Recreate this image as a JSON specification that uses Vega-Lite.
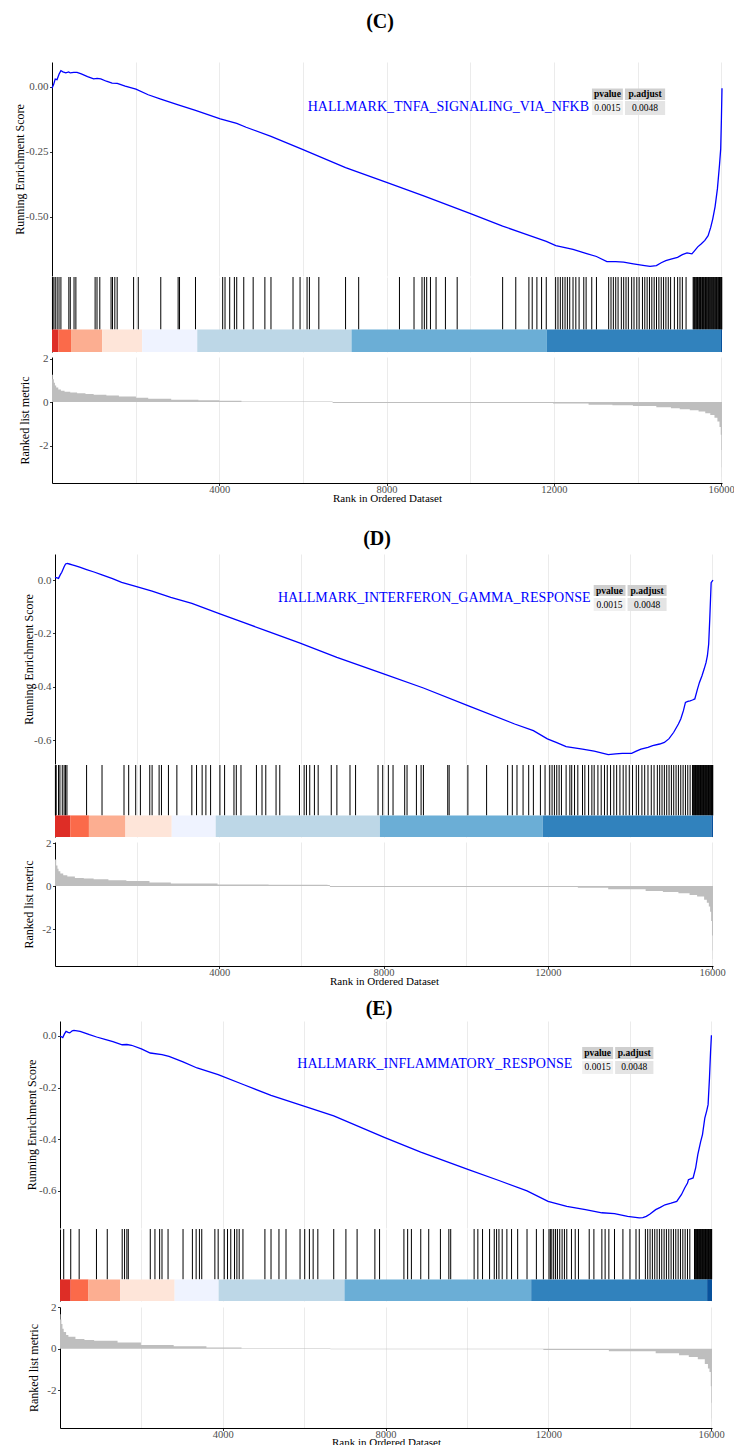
{
  "$schema": "https://vega.github.io/schema/vega-lite/v6.json",
  "padding": {"left": 0, "top": 12, "right": 0, "bottom": 0},
  "background": "white",
  "spacing": 0,
  "config": {
    "view": {"stroke": null},
    "font": "Liberation Serif",
    "axis": {"gridColor": "#EBEBEB", "gridWidth": 1, "domainColor": "#000000", "domainWidth": 1, "tickColor": "#333333", "labelColor": "#4D4D4D", "labelFont": "Liberation Serif", "titleFont": "Liberation Serif", "titleFontWeight": "normal", "titleColor": "#000000", "labelFontSize": 11, "titleFontSize": 12, "tickSize": 2.5, "labelPadding": 1.5},
    "title": {"font": "Liberation Serif", "fontSize": 20, "fontWeight": "bold", "color": "#000000", "anchor": "middle", "dx": -7}
  },
  "datasets": {
    "esC": [{"rank":0,"es":-0.005},{"rank":40,"es":0.01},{"rank":77,"es":0.03},{"rank":120,"es":0.028},{"rank":170,"es":0.05},{"rank":213,"es":0.063},{"rank":260,"es":0.058},{"rank":330,"es":0.054},{"rank":400,"es":0.058},{"rank":436,"es":0.054},{"rank":520,"es":0.056},{"rank":599,"es":0.056},{"rank":700,"es":0.05},{"rank":850,"es":0.04},{"rank":996,"es":0.031},{"rank":1080,"es":0.033},{"rank":1166,"es":0.031},{"rank":1300,"es":0.022},{"rank":1437,"es":0.015},{"rank":1560,"es":0.014},{"rank":1750,"es":0.003},{"rank":2007,"es":-0.008},{"rank":2300,"es":-0.03},{"rank":2601,"es":-0.047},{"rank":3018,"es":-0.069},{"rank":3431,"es":-0.09},{"rank":4024,"es":-0.123},{"rank":4417,"es":-0.14},{"rank":4641,"es":-0.155},{"rank":5236,"es":-0.19},{"rank":5988,"es":-0.24},{"rank":7019,"es":-0.31},{"rank":8000,"es":-0.367},{"rank":8903,"es":-0.42},{"rank":10023,"es":-0.488},{"rank":10775,"es":-0.535},{"rank":11304,"es":-0.565},{"rank":11818,"es":-0.594},{"rank":12047,"es":-0.61},{"rank":12458,"es":-0.625},{"rank":12765,"es":-0.64},{"rank":13018,"es":-0.652},{"rank":13268,"es":-0.672},{"rank":13479,"es":-0.672},{"rank":13668,"es":-0.674},{"rank":13900,"es":-0.68},{"rank":14171,"es":-0.687},{"rank":14300,"es":-0.69},{"rank":14451,"es":-0.687},{"rank":14567,"es":-0.676},{"rank":14676,"es":-0.668},{"rank":14800,"es":-0.662},{"rank":14957,"es":-0.655},{"rank":15072,"es":-0.645},{"rank":15184,"es":-0.638},{"rank":15300,"es":-0.642},{"rank":15352,"es":-0.632},{"rank":15440,"es":-0.615},{"rank":15520,"es":-0.604},{"rank":15610,"es":-0.59},{"rank":15688,"es":-0.572},{"rank":15750,"es":-0.54},{"rank":15798,"es":-0.508},{"rank":15855,"es":-0.46},{"rank":15910,"es":-0.392},{"rank":15960,"es":-0.3},{"rank":15989,"es":-0.238},{"rank":16005,"es":-0.13},{"rank":16020,"es":-0.005}],
    "esD": [{"rank":0,"es":0.01},{"rank":50,"es":0.008},{"rank":86,"es":0.006},{"rank":130,"es":0.02},{"rank":165,"es":0.029},{"rank":222,"es":0.05},{"rank":257,"es":0.06},{"rank":300,"es":0.062},{"rank":348,"es":0.06},{"rank":420,"es":0.057},{"rank":484,"es":0.054},{"rank":600,"es":0.048},{"rank":769,"es":0.039},{"rank":950,"es":0.03},{"rank":1145,"es":0.019},{"rank":1400,"es":0.005},{"rank":1623,"es":-0.009},{"rank":1965,"es":-0.024},{"rank":2364,"es":-0.042},{"rank":2819,"es":-0.065},{"rank":3332,"es":-0.088},{"rank":4015,"es":-0.127},{"rank":4585,"es":-0.159},{"rank":5132,"es":-0.19},{"rank":5952,"es":-0.236},{"rank":6863,"es":-0.29},{"rank":8002,"es":-0.352},{"rank":8970,"es":-0.405},{"rank":10052,"es":-0.471},{"rank":11191,"es":-0.54},{"rank":11647,"es":-0.565},{"rank":11988,"es":-0.596},{"rank":12216,"es":-0.61},{"rank":12444,"es":-0.625},{"rank":12843,"es":-0.634},{"rank":13127,"es":-0.642},{"rank":13298,"es":-0.648},{"rank":13469,"es":-0.655},{"rank":13650,"es":-0.652},{"rank":13811,"es":-0.65},{"rank":14039,"es":-0.65},{"rank":14152,"es":-0.642},{"rank":14266,"es":-0.634},{"rank":14437,"es":-0.628},{"rank":14551,"es":-0.621},{"rank":14722,"es":-0.615},{"rank":14836,"es":-0.609},{"rank":14950,"es":-0.595},{"rank":15064,"es":-0.571},{"rank":15178,"es":-0.54},{"rank":15235,"es":-0.521},{"rank":15300,"es":-0.49},{"rank":15349,"es":-0.459},{"rank":15406,"es":-0.455},{"rank":15463,"es":-0.453},{"rank":15520,"es":-0.45},{"rank":15577,"es":-0.446},{"rank":15640,"es":-0.41},{"rank":15690,"es":-0.384},{"rank":15750,"es":-0.36},{"rank":15804,"es":-0.334},{"rank":15850,"es":-0.31},{"rank":15884,"es":-0.284},{"rank":15915,"es":-0.24},{"rank":15941,"es":-0.146},{"rank":15960,"es":-0.07},{"rank":15975,"es":-0.01},{"rank":16020,"es":0.0}],
    "esE": [{"rank":0,"es":0.0},{"rank":68,"es":-0.006},{"rank":110,"es":0.008},{"rank":149,"es":0.018},{"rank":200,"es":0.014},{"rank":241,"es":0.012},{"rank":300,"es":0.02},{"rank":344,"es":0.022},{"rank":420,"es":0.02},{"rank":494,"es":0.018},{"rank":600,"es":0.012},{"rank":724,"es":0.005},{"rank":900,"es":-0.004},{"rank":1126,"es":-0.014},{"rank":1300,"es":-0.022},{"rank":1528,"es":-0.034},{"rank":1643,"es":-0.033},{"rank":1758,"es":-0.036},{"rank":2000,"es":-0.05},{"rank":2218,"es":-0.066},{"rank":2506,"es":-0.072},{"rank":2678,"es":-0.079},{"rank":3023,"es":-0.1},{"rank":3368,"es":-0.124},{"rank":3886,"es":-0.15},{"rank":4518,"es":-0.189},{"rank":5185,"es":-0.23},{"rank":6013,"es":-0.273},{"rank":6726,"es":-0.31},{"rank":7967,"es":-0.393},{"rank":8864,"es":-0.45},{"rank":10037,"es":-0.518},{"rank":10785,"es":-0.56},{"rank":11475,"es":-0.6},{"rank":11992,"es":-0.641},{"rank":12452,"es":-0.66},{"rank":12912,"es":-0.673},{"rank":13314,"es":-0.685},{"rank":13624,"es":-0.688},{"rank":13946,"es":-0.699},{"rank":14233,"es":-0.705},{"rank":14320,"es":-0.704},{"rank":14406,"es":-0.699},{"rank":14498,"es":-0.69},{"rank":14636,"es":-0.673},{"rank":14750,"es":-0.664},{"rank":14866,"es":-0.654},{"rank":15015,"es":-0.648},{"rank":15154,"es":-0.641},{"rank":15268,"es":-0.615},{"rank":15349,"es":-0.589},{"rank":15418,"es":-0.57},{"rank":15441,"es":-0.557},{"rank":15556,"es":-0.55},{"rank":15620,"es":-0.51},{"rank":15671,"es":-0.46},{"rank":15740,"es":-0.41},{"rank":15786,"es":-0.382},{"rank":15843,"es":-0.318},{"rank":15890,"es":-0.29},{"rank":15924,"es":-0.266},{"rank":15958,"es":-0.163},{"rank":15985,"es":-0.06},{"rank":16005,"es":0.0},{"rank":16020,"es":0.0}],
    "hitsC": [{"rank":11},{"rank":44},{"rank":78},{"rank":123},{"rank":168},{"rank":213},{"rank":403},{"rank":437},{"rank":527},{"rank":571},{"rank":1031},{"rank":1076},{"rank":1143},{"rank":1412},{"rank":1446},{"rank":1502},{"rank":1558},{"rank":1951},{"rank":2063},{"rank":2601},{"rank":3016},{"rank":3049},{"rank":3431},{"rank":4081},{"rank":4137},{"rank":4249},{"rank":4361},{"rank":4417},{"rank":4585},{"rank":4810},{"rank":5090},{"rank":5236},{"rank":5763},{"rank":5931},{"rank":6099},{"rank":6155},{"rank":6380},{"rank":7019},{"rank":7333},{"rank":8308},{"rank":8656},{"rank":8847},{"rank":8903},{"rank":8959},{"rank":9049},{"rank":9183},{"rank":9407},{"rank":9688},{"rank":10775},{"rank":11089},{"rank":11403},{"rank":11482},{"rank":11594},{"rank":11706},{"rank":11818},{"rank":12042},{"rank":12098},{"rank":12154},{"rank":12211},{"rank":12267},{"rank":12323},{"rank":12379},{"rank":12458},{"rank":12525},{"rank":12603},{"rank":12715},{"rank":12771},{"rank":12906},{"rank":13018},{"rank":13310},{"rank":13366},{"rank":13422},{"rank":13479},{"rank":13535},{"rank":13613},{"rank":13669},{"rank":13725},{"rank":13781},{"rank":13860},{"rank":13916},{"rank":13983},{"rank":14039},{"rank":14118},{"rank":14174},{"rank":14230},{"rank":14286},{"rank":14342},{"rank":14398},{"rank":14454},{"rank":14511},{"rank":14567},{"rank":14623},{"rank":14679},{"rank":14735},{"rank":14791},{"rank":14881},{"rank":14959},{"rank":15015},{"rank":15072},{"rank":15161},{"rank":15330},{"rank":15345},{"rank":15365},{"rank":15380},{"rank":15400},{"rank":15415},{"rank":15435},{"rank":15450},{"rank":15470},{"rank":15485},{"rank":15505},{"rank":15520},{"rank":15540},{"rank":15555},{"rank":15575},{"rank":15590},{"rank":15610},{"rank":15625},{"rank":15645},{"rank":15660},{"rank":15680},{"rank":15695},{"rank":15715},{"rank":15730},{"rank":15750},{"rank":15765},{"rank":15785},{"rank":15800},{"rank":15820},{"rank":15835},{"rank":15855},{"rank":15870},{"rank":15890},{"rank":15905},{"rank":15925},{"rank":15940},{"rank":15960},{"rank":15975},{"rank":15990},{"rank":16005},{"rank":16015}],
    "hitsD": [{"rank":10},{"rank":29},{"rank":86},{"rank":120},{"rank":177},{"rank":222},{"rank":257},{"rank":291},{"rank":769},{"rank":1145},{"rank":1680},{"rank":1794},{"rank":1965},{"rank":2079},{"rank":2307},{"rank":2364},{"rank":2535},{"rank":2592},{"rank":2762},{"rank":2967},{"rank":3332},{"rank":3446},{"rank":3582},{"rank":3674},{"rank":3788},{"rank":4015},{"rank":4129},{"rank":4357},{"rank":4414},{"rank":4528},{"rank":4904},{"rank":5040},{"rank":5132},{"rank":5382},{"rank":5473},{"rank":5952},{"rank":6066},{"rank":6122},{"rank":6202},{"rank":6316},{"rank":6407},{"rank":6726},{"rank":6863},{"rank":7182},{"rank":7318},{"rank":7865},{"rank":7979},{"rank":8116},{"rank":8230},{"rank":8514},{"rank":8571},{"rank":8799},{"rank":8913},{"rank":8970},{"rank":9562},{"rank":9596},{"rank":10052},{"rank":10508},{"rank":11020},{"rank":11134},{"rank":11248},{"rank":11396},{"rank":11533},{"rank":11647},{"rank":11818},{"rank":11931},{"rank":12045},{"rank":12102},{"rank":12159},{"rank":12216},{"rank":12273},{"rank":12330},{"rank":12444},{"rank":12535},{"rank":12580},{"rank":12649},{"rank":12729},{"rank":12843},{"rank":12900},{"rank":12991},{"rank":13071},{"rank":13127},{"rank":13218},{"rank":13298},{"rank":13378},{"rank":13446},{"rank":13526},{"rank":13606},{"rank":13674},{"rank":13754},{"rank":13833},{"rank":13902},{"rank":13982},{"rank":14061},{"rank":14152},{"rank":14209},{"rank":14289},{"rank":14357},{"rank":14437},{"rank":14517},{"rank":14585},{"rank":14665},{"rank":14722},{"rank":14779},{"rank":14836},{"rank":14893},{"rank":14950},{"rank":15007},{"rank":15064},{"rank":15121},{"rank":15178},{"rank":15235},{"rank":15292},{"rank":15349},{"rank":15406},{"rank":15463},{"rank":15520},{"rank":15535},{"rank":15550},{"rank":15565},{"rank":15580},{"rank":15595},{"rank":15610},{"rank":15625},{"rank":15640},{"rank":15655},{"rank":15670},{"rank":15685},{"rank":15700},{"rank":15715},{"rank":15730},{"rank":15745},{"rank":15760},{"rank":15775},{"rank":15790},{"rank":15805},{"rank":15820},{"rank":15835},{"rank":15850},{"rank":15865},{"rank":15880},{"rank":15895},{"rank":15910},{"rank":15925},{"rank":15940},{"rank":15955},{"rank":15970},{"rank":15985},{"rank":16000},{"rank":16008},{"rank":16015}],
    "hitsE": [{"rank":91},{"rank":264},{"rank":471},{"rank":896},{"rank":1161},{"rank":1528},{"rank":1586},{"rank":1643},{"rank":1678},{"rank":2218},{"rank":2333},{"rank":2448},{"rank":2506},{"rank":2655},{"rank":3023},{"rank":3253},{"rank":3345},{"rank":3426},{"rank":3483},{"rank":3805},{"rank":3886},{"rank":4035},{"rank":4116},{"rank":4196},{"rank":4288},{"rank":4346},{"rank":4403},{"rank":4495},{"rank":5035},{"rank":5185},{"rank":5380},{"rank":5553},{"rank":5898},{"rank":6013},{"rank":6128},{"rank":6220},{"rank":6335},{"rank":6726},{"rank":7025},{"rank":7300},{"rank":7737},{"rank":7852},{"rank":8450},{"rank":8542},{"rank":8634},{"rank":8864},{"rank":9060},{"rank":9347},{"rank":9554},{"rank":9600},{"rank":10175},{"rank":10267},{"rank":10382},{"rank":10555},{"rank":10670},{"rank":10727},{"rank":10785},{"rank":10865},{"rank":10980},{"rank":11095},{"rank":11245},{"rank":11475},{"rank":11705},{"rank":11877},{"rank":12015},{"rank":12049},{"rank":12084},{"rank":12130},{"rank":12176},{"rank":12222},{"rank":12279},{"rank":12337},{"rank":12394},{"rank":12452},{"rank":12567},{"rank":12659},{"rank":12739},{"rank":13003},{"rank":13118},{"rank":13314},{"rank":13394},{"rank":13486},{"rank":13624},{"rank":13831},{"rank":14004},{"rank":14153},{"rank":14233},{"rank":14383},{"rank":14440},{"rank":14498},{"rank":14555},{"rank":14613},{"rank":14670},{"rank":14728},{"rank":14785},{"rank":14843},{"rank":14900},{"rank":14958},{"rank":15015},{"rank":15073},{"rank":15130},{"rank":15188},{"rank":15245},{"rank":15303},{"rank":15360},{"rank":15418},{"rank":15475},{"rank":15590},{"rank":15605},{"rank":15620},{"rank":15635},{"rank":15650},{"rank":15665},{"rank":15680},{"rank":15695},{"rank":15710},{"rank":15725},{"rank":15740},{"rank":15755},{"rank":15770},{"rank":15785},{"rank":15800},{"rank":15815},{"rank":15830},{"rank":15845},{"rank":15860},{"rank":15875},{"rank":15890},{"rank":15905},{"rank":15920},{"rank":15935},{"rank":15950},{"rank":15965},{"rank":15980},{"rank":15993},{"rank":16005},{"rank":16012}],
    "bandC": [{"start":0,"end":156,"seg":1},{"start":156,"end":455,"seg":2},{"start":455,"end":1198,"seg":3},{"start":1198,"end":2156,"seg":4},{"start":2156,"end":3473,"seg":5},{"start":3473,"end":7162,"seg":6},{"start":7162,"end":11833,"seg":7},{"start":11833,"end":15995,"seg":8},{"start":15995,"end":16020,"seg":9}],
    "bandD": [{"start":0,"end":370,"seg":1},{"start":370,"end":826,"seg":2},{"start":826,"end":1715,"seg":3},{"start":1715,"end":2842,"seg":4},{"start":2842,"end":3913,"seg":5},{"start":3913,"end":7910,"seg":6},{"start":7910,"end":11875,"seg":7},{"start":11875,"end":15980,"seg":8},{"start":15980,"end":16020,"seg":9}],
    "bandE": [{"start":0,"end":263,"seg":1},{"start":263,"end":700,"seg":2},{"start":700,"end":1482,"seg":3},{"start":1482,"end":2817,"seg":4},{"start":2817,"end":3897,"seg":5},{"start":3897,"end":6990,"seg":6},{"start":6990,"end":11577,"seg":7},{"start":11577,"end":15900,"seg":8},{"start":15900,"end":16020,"seg":9}],
    "rankC": [{"rank":0,"metric":1.26},{"rank":20,"metric":1.05},{"rank":45,"metric":0.89},{"rank":70,"metric":0.76},{"rank":100,"metric":0.67},{"rank":150,"metric":0.58},{"rank":213,"metric":0.52},{"rank":300,"metric":0.47},{"rank":436,"metric":0.44},{"rank":600,"metric":0.4},{"rank":800,"metric":0.37},{"rank":996,"metric":0.34},{"rank":1300,"metric":0.3},{"rank":1600,"metric":0.26},{"rank":2007,"metric":0.2},{"rank":2300,"metric":0.15},{"rank":2850,"metric":0.1},{"rank":3500,"metric":0.08},{"rank":4000,"metric":0.06},{"rank":4530,"metric":0.03},{"rank":5500,"metric":0.025},{"rank":6710,"metric":-0.04},{"rank":11980,"metric":-0.07},{"rank":12830,"metric":-0.12},{"rank":13400,"metric":-0.15},{"rank":13890,"metric":-0.18},{"rank":14450,"metric":-0.24},{"rank":14800,"metric":-0.29},{"rank":15010,"metric":-0.33},{"rank":15250,"metric":-0.38},{"rank":15460,"metric":-0.44},{"rank":15620,"metric":-0.51},{"rank":15740,"metric":-0.59},{"rank":15840,"metric":-0.72},{"rank":15910,"metric":-0.89},{"rank":15960,"metric":-1.15},{"rank":15990,"metric":-1.5},{"rank":16005,"metric":-2.2},{"rank":16013,"metric":-3.0},{"rank":16018,"metric":-3.43},{"rank":16020,"metric":-3.43}],
    "rankD": [{"rank":0,"metric":1.24},{"rank":29,"metric":0.96},{"rank":60,"metric":0.8},{"rank":86,"metric":0.69},{"rank":130,"metric":0.58},{"rank":200,"metric":0.5},{"rank":300,"metric":0.44},{"rank":484,"metric":0.38},{"rank":700,"metric":0.35},{"rank":940,"metric":0.32},{"rank":1300,"metric":0.27},{"rank":1737,"metric":0.23},{"rank":2300,"metric":0.17},{"rank":2820,"metric":0.12},{"rank":3958,"metric":0.076},{"rank":5200,"metric":0.06},{"rank":6635,"metric":0.046},{"rank":6692,"metric":-0.046},{"rank":12729,"metric":-0.076},{"rank":13469,"metric":-0.15},{"rank":14380,"metric":-0.23},{"rank":14800,"metric":-0.28},{"rank":15178,"metric":-0.34},{"rank":15450,"metric":-0.42},{"rank":15633,"metric":-0.49},{"rank":15804,"metric":-0.64},{"rank":15870,"metric":-0.78},{"rank":15918,"metric":-0.95},{"rank":15950,"metric":-1.2},{"rank":15975,"metric":-1.63},{"rank":15995,"metric":-2.3},{"rank":16010,"metric":-3.0},{"rank":16016,"metric":-3.39},{"rank":16020,"metric":-3.39}],
    "rankE": [{"rank":0,"metric":1.65},{"rank":15,"metric":1.4},{"rank":34,"metric":1.18},{"rank":60,"metric":0.95},{"rank":91,"metric":0.8},{"rank":150,"metric":0.65},{"rank":206,"metric":0.57},{"rank":379,"metric":0.46},{"rank":600,"metric":0.41},{"rank":839,"metric":0.38},{"rank":1414,"metric":0.29},{"rank":1988,"metric":0.18},{"rank":2793,"metric":0.11},{"rank":3598,"metric":0.06},{"rank":4460,"metric":0.015},{"rank":6645,"metric":-0.03},{"rank":11877,"metric":-0.06},{"rank":13486,"metric":-0.12},{"rank":14636,"metric":-0.22},{"rank":15211,"metric":-0.32},{"rank":15450,"metric":-0.4},{"rank":15671,"metric":-0.51},{"rank":15843,"metric":-0.74},{"rank":15920,"metric":-0.95},{"rank":15958,"metric":-1.12},{"rank":15990,"metric":-1.8},{"rank":16005,"metric":-2.6},{"rank":16014,"metric":-3.35},{"rank":16018,"metric":-3.52},{"rank":16020,"metric":-3.52}]
  },
  "vconcat": [
    {
      "spacing": 0,
      "hconcat": [
        {"width": 10, "height": 1, "data": {"values": []}, "mark": "point"},
        {
          "spacing": 0,
          "vconcat": [
            {
              "width": 670, "height": 214,
              "title": {"text": "(C)", "offset": 30},
              "layer": [
                {
                  "data": {"name": "esC"},
                  "mark": {"type": "line", "color": "#0000FF", "strokeWidth": 1.3},
                  "encoding": {
                    "x": {"field": "rank", "type": "quantitative", "scale": {"domain": [0, 16020], "nice": false, "zero": false}, "axis": {"values": [2000,4000,6000,8000,10000,12000,14000,16000], "labels": false, "ticks": false, "domain": false, "grid": true, "title": null}},
                    "y": {"field": "es", "type": "quantitative", "scale": {"domain": [-0.727, 0.096], "nice": false, "zero": false}, "axis": {"values": [-0.5, -0.25, 0], "format": ".2f", "labelExpr": "replace(datum.label, '\u2212', '-')", "grid": false, "title": "Running Enrichment Score", "titlePadding": -1}}
                  }
                },
                {
                  "data": {"values": [{"set": "HALLMARK_TNFA_SIGNALING_VIA_NFKB", "pvalue": "0.0015", "padj": "0.0048"}]},
                  "layer": [
                    {"mark": {"type": "text", "align": "right", "baseline": "middle", "color": "#0000FF", "fontSize": 14}, "encoding": {"x": {"datum": 12840}, "y": {"datum": -0.077}, "text": {"field": "set"}}},
                    {"mark": {"type": "rect", "fill": "#CFCFCF"}, "encoding": {"x": {"datum": 12910}, "x2": {"datum": 13650}, "y": {"datum": -0.006}, "y2": {"datum": -0.05}}},
                    {"mark": {"type": "rect", "fill": "#CFCFCF"}, "encoding": {"x": {"datum": 13700}, "x2": {"datum": 14660}, "y": {"datum": -0.006}, "y2": {"datum": -0.05}}},
                    {"mark": {"type": "rect", "fill": "#F0F0F0"}, "encoding": {"x": {"datum": 12910}, "x2": {"datum": 13650}, "y": {"datum": -0.054}, "y2": {"datum": -0.108}}},
                    {"mark": {"type": "rect", "fill": "#E4E4E4"}, "encoding": {"x": {"datum": 13700}, "x2": {"datum": 14660}, "y": {"datum": -0.054}, "y2": {"datum": -0.108}}},
                    {"mark": {"type": "text", "text": "pvalue", "fontWeight": "bold", "fontSize": 9.5, "baseline": "middle", "color": "#000000"}, "encoding": {"x": {"datum": 13280}, "y": {"datum": -0.028}}},
                    {"mark": {"type": "text", "text": "p.adjust", "fontWeight": "bold", "fontSize": 9.5, "baseline": "middle", "color": "#000000"}, "encoding": {"x": {"datum": 14180}, "y": {"datum": -0.028}}},
                    {"mark": {"type": "text", "fontSize": 9.5, "baseline": "middle", "color": "#000000"}, "encoding": {"x": {"datum": 13280}, "y": {"datum": -0.081}, "text": {"field": "pvalue"}}},
                    {"mark": {"type": "text", "fontSize": 9.5, "baseline": "middle", "color": "#000000"}, "encoding": {"x": {"datum": 14180}, "y": {"datum": -0.081}, "text": {"field": "padj"}}}
                  ]
                }
              ]
            },
            {
              "width": 670, "height": 75,
              "layer": [
                {
                  "data": {"name": "hitsC"},
                  "mark": {"type": "rule", "color": "#000000", "strokeWidth": 1},
                  "encoding": {
                    "x": {"field": "rank", "type": "quantitative", "scale": {"domain": [0, 16020], "nice": false, "zero": false}, "axis": {"values": [2000,4000,6000,8000,10000,12000,14000,16000], "labels": false, "ticks": false, "domain": false, "grid": true, "title": null}},
                    "y": {"datum": 0.3, "type": "quantitative", "scale": {"domain": [0, 1], "nice": false}, "axis": {"title": ".", "titleColor": "rgba(0,0,0,0)", "titleFontSize": 1, "titlePadding": 41, "labels": false, "ticks": false, "grid": false}},
                    "y2": {"datum": 1}
                  }
                },
                {
                  "data": {"name": "bandC"},
                  "mark": {"type": "rect"},
                  "encoding": {
                    "x": {"field": "start", "type": "quantitative"},
                    "x2": {"field": "end"},
                    "y": {"datum": 0},
                    "y2": {"datum": 0.3},
                    "color": {"field": "seg", "type": "ordinal", "scale": {"domain": [1,2,3,4,5,6,7,8,9], "range": ["#DE2D26","#FB6A4A","#FCAE91","#FEE5D9","#EFF3FF","#BDD7E7","#6BAED6","#3182BD","#08519C"]}, "legend": null}
                  }
                }
              ]
            },
            {
              "width": 670, "height": 126,
              "data": {"name": "rankC"},
              "mark": {"type": "area", "color": "#BEBEBE", "interpolate": "step-after"},
              "encoding": {
                "x": {"field": "rank", "type": "quantitative", "scale": {"domain": [0, 16020], "nice": false, "zero": false}, "axis": {"values": [2000,4000,6000,8000,10000,12000,14000,16000], "format": "d", "labelExpr": "datum.value % 4000 === 0 ? datum.label : ''", "tickOpacity": {"condition": {"test": "datum.value % 4000 === 0", "value": 1}, "value": 0}, "labelFlush": false, "labelOverlap": false, "labelFontSize": 10.5, "labelPadding": -1, "grid": true, "title": "Rank in Ordered Dataset", "titleFontSize": 11, "titlePadding": -3}},
                "y": {"field": "metric", "type": "quantitative", "stack": null, "scale": {"domain": [-3.72, 2.07], "nice": false, "zero": false}, "axis": {"values": [-2, 0, 2], "labelExpr": "replace(datum.label, '\u2212', '-')", "grid": false, "title": "Ranked list metric", "titlePadding": 7}},
                "y2": {"datum": 0}
              }
            }
          ]
        }
      ]
    },
    {"width": 1, "height": 26, "data": {"values": []}, "mark": "point"},
    {
      "spacing": 0,
      "hconcat": [
        {"width": 13, "height": 1, "data": {"values": []}, "mark": "point"},
        {
          "spacing": 0,
          "vconcat": [
            {
              "width": 658, "height": 210,
              "title": {"text": "(D)", "offset": 5},
              "layer": [
                {
                  "data": {"name": "esD"},
                  "mark": {"type": "line", "color": "#0000FF", "strokeWidth": 1.3},
                  "encoding": {
                    "x": {"field": "rank", "type": "quantitative", "scale": {"domain": [0, 16020], "nice": false, "zero": false}, "axis": {"values": [2000,4000,6000,8000,10000,12000,14000,16000], "labels": false, "ticks": false, "domain": false, "grid": true, "title": null}},
                    "y": {"field": "es", "type": "quantitative", "scale": {"domain": [-0.69, 0.0975], "nice": false, "zero": false}, "axis": {"values": [-0.6, -0.4, -0.2, 0], "format": ".1f", "labelExpr": "replace(datum.label, '\u2212', '-')", "grid": false, "title": "Running Enrichment Score", "titlePadding": -2}}
                  }
                },
                {
                  "data": {"values": [{"set": "HALLMARK_INTERFERON_GAMMA_RESPONSE", "pvalue": "0.0015", "padj": "0.0048"}]},
                  "layer": [
                    {"mark": {"type": "text", "align": "right", "baseline": "middle", "color": "#0000FF", "fontSize": 14}, "encoding": {"x": {"datum": 13040}, "y": {"datum": -0.0675}, "text": {"field": "set"}}},
                    {"mark": {"type": "rect", "fill": "#CFCFCF"}, "encoding": {"x": {"datum": 13115}, "x2": {"datum": 13890}, "y": {"datum": -0.019}, "y2": {"datum": -0.06}}},
                    {"mark": {"type": "rect", "fill": "#CFCFCF"}, "encoding": {"x": {"datum": 13940}, "x2": {"datum": 14890}, "y": {"datum": -0.019}, "y2": {"datum": -0.06}}},
                    {"mark": {"type": "rect", "fill": "#F0F0F0"}, "encoding": {"x": {"datum": 13115}, "x2": {"datum": 13890}, "y": {"datum": -0.0675}, "y2": {"datum": -0.116}}},
                    {"mark": {"type": "rect", "fill": "#E4E4E4"}, "encoding": {"x": {"datum": 13940}, "x2": {"datum": 14890}, "y": {"datum": -0.0675}, "y2": {"datum": -0.116}}},
                    {"mark": {"type": "text", "text": "pvalue", "fontWeight": "bold", "fontSize": 9.5, "baseline": "middle", "color": "#000000"}, "encoding": {"x": {"datum": 13500}, "y": {"datum": -0.04}}},
                    {"mark": {"type": "text", "text": "p.adjust", "fontWeight": "bold", "fontSize": 9.5, "baseline": "middle", "color": "#000000"}, "encoding": {"x": {"datum": 14415}, "y": {"datum": -0.04}}},
                    {"mark": {"type": "text", "fontSize": 9.5, "baseline": "middle", "color": "#000000"}, "encoding": {"x": {"datum": 13500}, "y": {"datum": -0.092}, "text": {"field": "pvalue"}}},
                    {"mark": {"type": "text", "fontSize": 9.5, "baseline": "middle", "color": "#000000"}, "encoding": {"x": {"datum": 14415}, "y": {"datum": -0.092}, "text": {"field": "padj"}}}
                  ]
                }
              ]
            },
            {
              "width": 658, "height": 72,
              "layer": [
                {
                  "data": {"name": "hitsD"},
                  "mark": {"type": "rule", "color": "#000000", "strokeWidth": 1},
                  "encoding": {
                    "x": {"field": "rank", "type": "quantitative", "scale": {"domain": [0, 16020], "nice": false, "zero": false}, "axis": {"values": [2000,4000,6000,8000,10000,12000,14000,16000], "labels": false, "ticks": false, "domain": false, "grid": true, "title": null}},
                    "y": {"datum": 0.3, "type": "quantitative", "scale": {"domain": [0, 1], "nice": false}, "axis": {"title": ".", "titleColor": "rgba(0,0,0,0)", "titleFontSize": 1, "titlePadding": 41, "labels": false, "ticks": false, "grid": false}},
                    "y2": {"datum": 1}
                  }
                },
                {
                  "data": {"name": "bandD"},
                  "mark": {"type": "rect"},
                  "encoding": {
                    "x": {"field": "start", "type": "quantitative"},
                    "x2": {"field": "end"},
                    "y": {"datum": 0},
                    "y2": {"datum": 0.3},
                    "color": {"field": "seg", "type": "ordinal", "scale": {"domain": [1,2,3,4,5,6,7,8,9], "range": ["#DE2D26","#FB6A4A","#FCAE91","#FEE5D9","#EFF3FF","#BDD7E7","#6BAED6","#3182BD","#08519C"]}, "legend": null}
                  }
                }
              ]
            },
            {
              "width": 658, "height": 124,
              "data": {"name": "rankD"},
              "mark": {"type": "area", "color": "#BEBEBE", "interpolate": "step-after"},
              "encoding": {
                "x": {"field": "rank", "type": "quantitative", "scale": {"domain": [0, 16020], "nice": false, "zero": false}, "axis": {"values": [2000,4000,6000,8000,10000,12000,14000,16000], "format": "d", "labelExpr": "datum.value % 4000 === 0 ? datum.label : ''", "tickOpacity": {"condition": {"test": "datum.value % 4000 === 0", "value": 1}, "value": 0}, "labelFlush": false, "labelOverlap": false, "labelFontSize": 10.5, "labelPadding": -1, "grid": true, "title": "Rank in Ordered Dataset", "titleFontSize": 11, "titlePadding": -3}},
                "y": {"field": "metric", "type": "quantitative", "stack": null, "scale": {"domain": [-3.72, 2.05], "nice": false, "zero": false}, "axis": {"values": [-2, 0, 2], "labelExpr": "replace(datum.label, '\u2212', '-')", "grid": false, "title": "Ranked list metric", "titlePadding": 6}},
                "y2": {"datum": 0}
              }
            }
          ]
        }
      ]
    },
    {"width": 1, "height": 13, "data": {"values": []}, "mark": "point"},
    {
      "spacing": 0,
      "hconcat": [
        {"width": 18, "height": 1, "data": {"values": []}, "mark": "point"},
        {
          "spacing": 0,
          "vconcat": [
            {
              "width": 652, "height": 207,
              "title": {"text": "(E)", "offset": 2},
              "layer": [
                {
                  "data": {"name": "esE"},
                  "mark": {"type": "line", "color": "#0000FF", "strokeWidth": 1.3},
                  "encoding": {
                    "x": {"field": "rank", "type": "quantitative", "scale": {"domain": [0, 16020], "nice": false, "zero": false}, "axis": {"values": [2000,4000,6000,8000,10000,12000,14000,16000], "labels": false, "ticks": false, "domain": false, "grid": true, "title": null}},
                    "y": {"field": "es", "type": "quantitative", "scale": {"domain": [-0.744, 0.058], "nice": false, "zero": false}, "axis": {"values": [-0.6, -0.4, -0.2, 0], "format": ".1f", "labelExpr": "replace(datum.label, '\u2212', '-')", "grid": false, "title": "Running Enrichment Score", "titlePadding": 0}}
                  }
                },
                {
                  "data": {"values": [{"set": "HALLMARK_INFLAMMATORY_RESPONSE", "pvalue": "0.0015", "padj": "0.0048"}]},
                  "layer": [
                    {"mark": {"type": "text", "align": "right", "baseline": "middle", "color": "#0000FF", "fontSize": 14}, "encoding": {"x": {"datum": 12590}, "y": {"datum": -0.1085}, "text": {"field": "set"}}},
                    {"mark": {"type": "rect", "fill": "#CFCFCF"}, "encoding": {"x": {"datum": 12830}, "x2": {"datum": 13590}, "y": {"datum": -0.0426}, "y2": {"datum": -0.089}}},
                    {"mark": {"type": "rect", "fill": "#CFCFCF"}, "encoding": {"x": {"datum": 13640}, "x2": {"datum": 14580}, "y": {"datum": -0.0426}, "y2": {"datum": -0.089}}},
                    {"mark": {"type": "rect", "fill": "#F0F0F0"}, "encoding": {"x": {"datum": 12830}, "x2": {"datum": 13590}, "y": {"datum": -0.097}, "y2": {"datum": -0.147}}},
                    {"mark": {"type": "rect", "fill": "#E4E4E4"}, "encoding": {"x": {"datum": 13640}, "x2": {"datum": 14580}, "y": {"datum": -0.097}, "y2": {"datum": -0.147}}},
                    {"mark": {"type": "text", "text": "pvalue", "fontWeight": "bold", "fontSize": 9.5, "baseline": "middle", "color": "#000000"}, "encoding": {"x": {"datum": 13210}, "y": {"datum": -0.066}}},
                    {"mark": {"type": "text", "text": "p.adjust", "fontWeight": "bold", "fontSize": 9.5, "baseline": "middle", "color": "#000000"}, "encoding": {"x": {"datum": 14110}, "y": {"datum": -0.066}}},
                    {"mark": {"type": "text", "fontSize": 9.5, "baseline": "middle", "color": "#000000"}, "encoding": {"x": {"datum": 13210}, "y": {"datum": -0.122}, "text": {"field": "pvalue"}}},
                    {"mark": {"type": "text", "fontSize": 9.5, "baseline": "middle", "color": "#000000"}, "encoding": {"x": {"datum": 14110}, "y": {"datum": -0.122}, "text": {"field": "padj"}}}
                  ]
                }
              ]
            },
            {
              "width": 652, "height": 72,
              "layer": [
                {
                  "data": {"name": "hitsE"},
                  "mark": {"type": "rule", "color": "#000000", "strokeWidth": 1},
                  "encoding": {
                    "x": {"field": "rank", "type": "quantitative", "scale": {"domain": [0, 16020], "nice": false, "zero": false}, "axis": {"values": [2000,4000,6000,8000,10000,12000,14000,16000], "labels": false, "ticks": false, "domain": false, "grid": true, "title": null}},
                    "y": {"datum": 0.3, "type": "quantitative", "scale": {"domain": [0, 1], "nice": false}, "axis": {"title": ".", "titleColor": "rgba(0,0,0,0)", "titleFontSize": 1, "titlePadding": 41, "labels": false, "ticks": false, "grid": false}},
                    "y2": {"datum": 1}
                  }
                },
                {
                  "data": {"name": "bandE"},
                  "mark": {"type": "rect"},
                  "encoding": {
                    "x": {"field": "start", "type": "quantitative"},
                    "x2": {"field": "end"},
                    "y": {"datum": 0},
                    "y2": {"datum": 0.3},
                    "color": {"field": "seg", "type": "ordinal", "scale": {"domain": [1,2,3,4,5,6,7,8,9], "range": ["#DE2D26","#FB6A4A","#FCAE91","#FEE5D9","#EFF3FF","#BDD7E7","#6BAED6","#3182BD","#08519C"]}, "legend": null}
                  }
                }
              ]
            },
            {
              "width": 652, "height": 121,
              "data": {"name": "rankE"},
              "mark": {"type": "area", "color": "#BEBEBE", "interpolate": "step-after"},
              "encoding": {
                "x": {"field": "rank", "type": "quantitative", "scale": {"domain": [0, 16020], "nice": false, "zero": false}, "axis": {"values": [2000,4000,6000,8000,10000,12000,14000,16000], "format": "d", "labelExpr": "datum.value % 4000 === 0 ? datum.label : ''", "tickOpacity": {"condition": {"test": "datum.value % 4000 === 0", "value": 1}, "value": 0}, "labelFlush": false, "labelOverlap": false, "labelFontSize": 10.5, "labelPadding": -1, "grid": true, "title": "Rank in Ordered Dataset", "titleFontSize": 11, "titlePadding": -4}},
                "y": {"field": "metric", "type": "quantitative", "stack": null, "scale": {"domain": [-3.81, 2.0], "nice": false, "zero": false}, "axis": {"values": [-2, 0, 2], "labelExpr": "replace(datum.label, '\u2212', '-')", "grid": false, "title": "Ranked list metric", "titlePadding": 6}},
                "y2": {"datum": 0}
              }
            }
          ]
        }
      ]
    }
  ]
}
